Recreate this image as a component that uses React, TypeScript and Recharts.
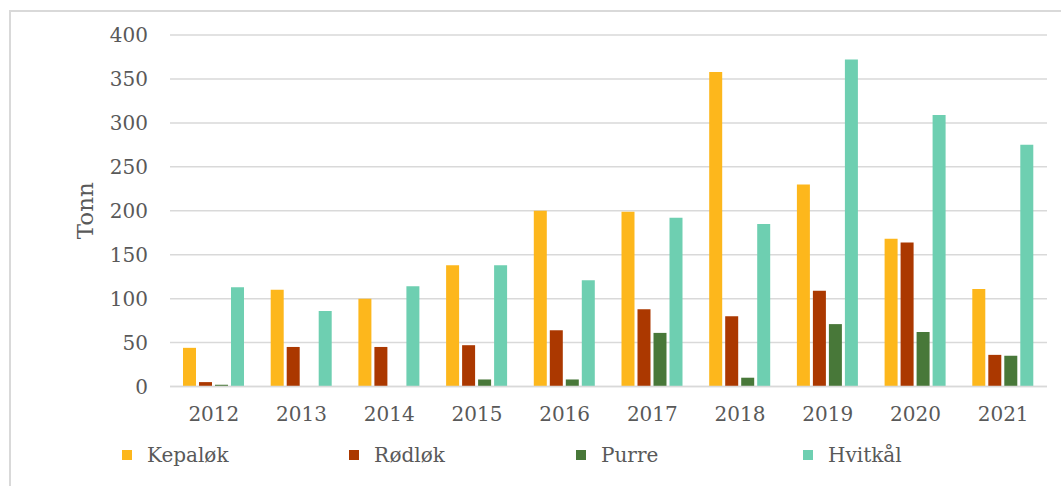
import React from 'react';
import { BarChart, Bar, XAxis, YAxis, CartesianGrid } from 'recharts';

const years = ['2012', '2013', '2014', '2015', '2016', '2017', '2018', '2019', '2020', '2021'];
const kepalok = [44, 110, 100, 138, 200, 199, 358, 230, 168, 111];
const rodlok = [5, 45, 45, 47, 64, 88, 80, 109, 164, 36];
const purre = [2, 0, 0, 8, 8, 61, 10, 71, 62, 35];
const hvitkal = [113, 86, 114, 138, 121, 192, 185, 372, 309, 275];
const yTicks = [0, 50, 100, 150, 200, 250, 300, 350, 400];

const seriesNames = ['Kepaløk', 'Rødløk', 'Purre', 'Hvitkål'];
const seriesKeys = ['kepalok', 'rodlok', 'purre', 'hvitkal'];
const seriesColors = ['#FDB71C', '#AB3800', '#487839', '#6ECFB1'];
const legendX = [122, 349, 576, 803];

const data = years.map((y, i) => ({
  year: y,
  kepalok: kepalok[i],
  rodlok: rodlok[i],
  purre: purre[i],
  hvitkal: hvitkal[i],
}));

const FONT = '"DejaVu Serif", Georgia, serif';
const TEXT = '#595959';

export default function App() {
  return (
    <div style={{ position: 'absolute', left: 0, top: 0, width: 1061, height: 486, background: '#fff', overflow: 'hidden' }}>
      <div style={{ position: 'absolute', left: 9, top: 10, width: 1061, height: 486, borderLeft: '2px solid #d9d9d9', borderTop: '2px solid #d9d9d9' }} />
      <div style={{ position: 'absolute', left: 0, top: 0 }}>
        <BarChart
          width={1061}
          height={486}
          data={data}
          margin={{ top: 35, right: 14, bottom: 69.5, left: 0 }}
          barSize={13}
          barGap={3}
        >
          <CartesianGrid vertical={false} stroke="#d9d9d9" strokeWidth={1.5} />
          <XAxis
            dataKey="year"
            tickLine={false}
            tickSize={0}
            tickMargin={20}
            height={30}
            axisLine={{ stroke: '#d9d9d9', strokeWidth: 1.5 }}
            tick={{ fill: TEXT, fontSize: 20, fontFamily: FONT }}
          />
          <YAxis
            width={170}
            domain={[0, 400]}
            ticks={yTicks}
            tickLine={false}
            axisLine={false}
            tickSize={0}
            tickMargin={22}
            tick={{ fill: TEXT, fontSize: 20, fontFamily: FONT }}
            label={{ value: 'Tonn', angle: -90, position: 'center', fill: TEXT, fontSize: 23, fontFamily: FONT }}
          />
          {seriesKeys.map((k, i) => (
            <Bar key={k} dataKey={k} name={seriesNames[i]} fill={seriesColors[i]} isAnimationActive={false} />
          ))}
        </BarChart>
      </div>
      {seriesNames.map((n, i) => (
        <div key={n} style={{ position: 'absolute', left: legendX[i], top: 442, height: 26, display: 'flex', alignItems: 'center' }}>
          <div style={{ width: 10, height: 10, background: seriesColors[i], marginRight: 15 }} />
          <span style={{ fontFamily: FONT, fontSize: 20, color: TEXT, lineHeight: '26px' }}>{n}</span>
        </div>
      ))}
    </div>
  );
}
